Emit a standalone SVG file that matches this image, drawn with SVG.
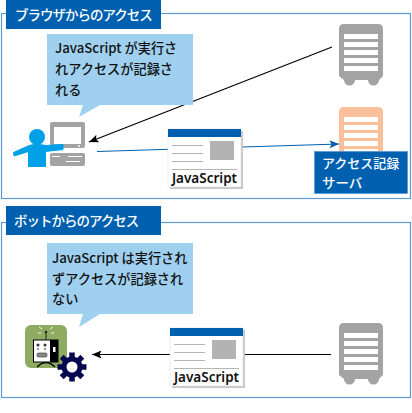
<svg xmlns="http://www.w3.org/2000/svg" width="412" height="413" viewBox="0 0 412 413">
<style>
.panel{fill:#fff;stroke:#5b9bd5;stroke-width:1.2}
.tab{fill:#0060b0}
.white{fill:#fff;font-family:"Noto Sans CJK JP","Noto Sans",sans-serif;font-size:13.5px;font-weight:500}
.bubble{fill:#a0d0ef}
.dark{fill:#111;font-family:"Noto Sans CJK JP","Noto Sans",sans-serif;font-size:13.2px;font-weight:500}
.js{fill:#111;font-family:"Noto Sans","Noto Sans CJK JP",sans-serif;font-size:13.5px;font-weight:600}
.rule{stroke:#b5b5b5;stroke-width:1;fill:none}
</style>
<defs>
<marker id="ab" markerUnits="userSpaceOnUse" markerWidth="10" markerHeight="8" refX="9.500" refY="4" orient="auto"><path d="M0 0L9.500 4L0 8L2 4Z" fill="#000"/></marker>
<marker id="au" markerUnits="userSpaceOnUse" markerWidth="10" markerHeight="8" refX="9.500" refY="4" orient="auto"><path d="M0 0L9.500 4L0 8L2 4Z" fill="#0060b0"/></marker>
<g id="srv">
<path d="M5 0H39Q44 0 44 5V52L40 56A5.500 5.500 0 0 1 29 56H16A5.500 5.500 0 0 1 5 56L0 52V5Q0 0 5 0Z"/>
<g fill="#fff"><rect x="5" y="10" width="34" height="5"/><rect x="5" y="18" width="34" height="5"/><rect x="5" y="26" width="34" height="5"/><rect x="5" y="34" width="34" height="5"/><rect x="5" y="42" width="34" height="5"/></g>
</g>
<g id="page">
<rect x="2" y="2" width="73" height="58" fill="#c8c8c8"/>
<rect width="73" height="58" fill="#fff" stroke="#ddd" stroke-width=".6"/>
<rect width="73" height="8" fill="#0060b0"/>
<path class="rule" d="M4 16.500H35M4 24.500H35M4 32.500H35M4 40.500H69"/>
<rect x="42" y="12" width="24" height="19" fill="#b3b3b3"/>
<text class="js" x="36.500" y="54" text-anchor="middle">JavaScript</text>
</g>
</defs>
<g id="panel-browser"><rect class="panel" x="1.500" y="13.500" width="409" height="185"/></g>
<g id="panel-bot"><rect class="panel" x="1.500" y="222.500" width="409" height="175"/></g>
<g id="connectors">
<line x1="332" y1="47" x2="89" y2="142" stroke="#000" stroke-width="1.200" marker-end="url(#ab)"/>
<line x1="97" y1="151.500" x2="339" y2="144" stroke="#0060b0" stroke-width="1.200" marker-end="url(#au)"/>
<line x1="331" y1="354.500" x2="92" y2="354.500" stroke="#000" stroke-width="1.200" marker-end="url(#ab)"/>
</g>
<g id="tab-browser"><rect class="tab" x="6" y="0" width="155" height="29"/><text class="white" x="15" y="20" letter-spacing="-1">ブラウザからのアクセス</text></g>
<g id="tab-bot"><rect class="tab" x="6" y="206" width="155" height="29"/><text class="white" x="14" y="226" letter-spacing="-1">ボットからのアクセス</text></g>
<g id="bubble-browser">
<path class="bubble" d="M47 34H193V105H100L79 117L83 105H47Z"/>
<text class="dark" x="55" y="53">JavaScript が実行さ</text>
<text class="dark" x="55" y="74">れアクセスが記録さ</text>
<text class="dark" x="55" y="95">れる</text>
</g>
<g id="bubble-bot">
<path class="bubble" d="M47 243H193V314H100L79 327L83 314H47Z"/>
<text class="dark" x="52" y="263">JavaScript は実行され</text>
<text class="dark" x="52" y="284">ずアクセスが記録され</text>
<text class="dark" x="52" y="304">ない</text>
</g>
<g id="user-pc">
<rect x="50" y="122" width="35" height="26" rx="2" fill="#a3a3a3"/>
<rect x="54" y="127" width="27" height="17" fill="#fff"/>
<circle cx="79" cy="146" r="1" fill="#fff"/>
<rect x="50" y="153" width="35" height="13" rx="2" fill="#a3a3a3"/>
<path d="M52 156.500H60M68 156.500H82M66 161.500H80" stroke="#fff" stroke-width="1"/>
<circle cx="37" cy="137" r="8" fill="#00a0e9"/>
<path d="M13.500 152.500L28 146Q31 144.500 36 144.500Q42 144.500 46 145.500L63 144.500V149.500L45.500 151.500V166.500H28.500V151.500L14 156Z" fill="#00a0e9" stroke="#00a0e9" stroke-linejoin="round"/>
</g>
<g id="server-top"><use href="#srv" transform="translate(339,24)" fill="#a3a3a3"/></g>
<g id="server-log"><use href="#srv" transform="translate(339,107)" fill="#fabf9b"/></g>
<g id="label-log"><rect x="314.500" y="151.500" width="93" height="42" fill="#0060b0" stroke="#5b9bd5" stroke-width=".8"/>
<text class="white" x="322" y="168" style="font-size:13px">アクセス記録</text><text class="white" x="322" y="188" style="font-size:13.500px">サーバ</text></g>
<g id="page-top"><use href="#page" transform="translate(168,129)"/></g>
<g id="page-bot"><use href="#page" transform="translate(170,328)"/></g>
<g id="server-bot"><use href="#srv" transform="translate(339,323)" fill="#a3a3a3"/></g>
<g id="robot">
<rect x="25" y="325" width="42" height="43" rx="6" fill="#8fab62"/>
<path d="M37 367Q46 358 55 367" stroke="#000" fill="none" stroke-width="1.300"/>
<rect x="33.500" y="340" width="24.500" height="22" fill="#fff" stroke="#000"/>
<rect x="50" y="340" width="8" height="22" fill="#000"/>
<rect x="53" y="347" width="2.500" height="5" fill="#fff"/>
<path d="M46 332V340" stroke="#222"/>
<circle cx="46" cy="332" r="1.300" fill="#222"/>
<path d="M42 329L39 327M41 333L38 333M50 329L53 327M51 333L54 333" stroke="#eee" fill="none"/>
<circle cx="38" cy="345" r="1.500" fill="#333"/><circle cx="45" cy="345" r="1.500" fill="#333"/>
<circle cx="38" cy="349" r="1" fill="#777"/><circle cx="45" cy="349" r="1" fill="#777"/>
<rect x="37" y="353" width="10" height="4" rx="1.500" fill="#888" stroke="#333" stroke-width=".6"/>
<circle cx="72" cy="367" r="10.500" fill="#060650"/>
<path d="M72 352.500V381.500M57.500 367H86.500M61.700 356.700L82.300 377.300M82.300 356.700L61.700 377.300" stroke="#060650" stroke-width="5.500"/>
<circle cx="72" cy="367" r="5.500" fill="#fff"/>
</g>
</svg>
